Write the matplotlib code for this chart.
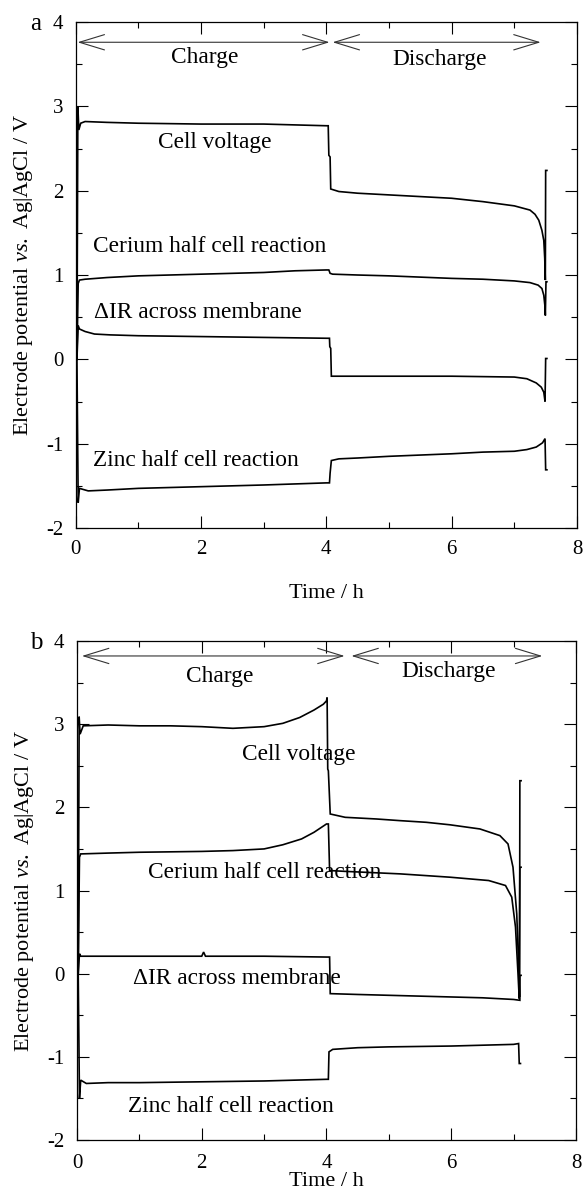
import numpy as np
import matplotlib
matplotlib.use("Agg")
import matplotlib.pyplot as plt

plt.rcParams['font.family'] = ['Liberation Serif', 'DejaVu Serif']
plt.rcParams['mathtext.fontset'] = 'custom'
plt.rcParams['mathtext.rm'] = 'Liberation Serif'
plt.rcParams['mathtext.it'] = 'Liberation Serif:italic'

# ---- panel a: charge/discharge potentials (time in h, potential in V) ----
a_cell_t = [0.02, 0.035, 0.05, 0.08, 0.15, 0.5, 1.0, 2.0, 3.0, 3.5, 4.0, 4.03, 4.04, 4.06, 4.07,
            4.2, 4.5, 5.0, 5.5, 6.0, 6.5, 7.0, 7.25, 7.33, 7.39, 7.44, 7.47, 7.485, 7.495, 7.5, 7.52]
a_cell_v = [0.0, 3.0, 2.72, 2.80, 2.82, 2.81, 2.80, 2.79, 2.79, 2.78, 2.77, 2.77, 2.42, 2.40, 2.02,
            1.99, 1.97, 1.95, 1.93, 1.91, 1.87, 1.82, 1.77, 1.72, 1.65, 1.53, 1.41, 1.20, 0.94, 2.24, 2.24]

a_ce_t = [0.02, 0.04, 0.06, 0.15, 0.5, 1.0, 2.0, 3.0, 3.5, 4.0, 4.04, 4.06, 4.1, 4.5, 5.0, 6.0,
          6.5, 7.0, 7.25, 7.38, 7.44, 7.47, 7.49, 7.495, 7.505, 7.52]
a_ce_v = [0.0, 0.90, 0.94, 0.95, 0.97, 0.99, 1.01, 1.03, 1.05, 1.06, 1.06, 1.02, 1.01, 1.00, 0.99, 0.96,
          0.95, 0.93, 0.91, 0.88, 0.84, 0.76, 0.62, 0.52, 0.92, 0.92]

a_ir_t = [0.02, 0.04, 0.06, 0.15, 0.3, 0.55, 1.0, 2.0, 3.0, 4.0, 4.05, 4.055, 4.07, 4.08, 4.5, 5.0,
          6.0, 7.0, 7.2, 7.35, 7.43, 7.47, 7.49, 7.5, 7.52]
a_ir_v = [0.0, 0.40, 0.36, 0.33, 0.30, 0.29, 0.28, 0.27, 0.26, 0.25, 0.25, 0.15, 0.13, -0.20, -0.20, -0.20,
          -0.20, -0.21, -0.23, -0.28, -0.33, -0.39, -0.50, 0.01, 0.01]

a_zn_t = [0.02, 0.04, 0.06, 0.2, 0.5, 1.0, 2.0, 3.0, 4.0, 4.05, 4.06, 4.08, 4.2, 4.5, 5.0, 6.0,
          6.5, 7.0, 7.2, 7.35, 7.45, 7.49, 7.5, 7.52]
a_zn_v = [0.0, -1.70, -1.53, -1.56, -1.55, -1.53, -1.51, -1.49, -1.465, -1.465, -1.35, -1.20, -1.18, -1.17,
          -1.15, -1.12, -1.10, -1.09, -1.07, -1.04, -0.99, -0.94, -1.31, -1.31]

# ---- panel b ----
b_cell_t = [0.02, 0.035, 0.05, 0.1, 0.5, 1.0, 1.5, 2.0, 2.5, 3.0, 3.3, 3.57, 3.8, 3.95, 4.0, 4.01,
            4.02, 4.03, 4.06, 4.3, 4.8, 5.18, 5.6, 5.98, 6.46, 6.78, 6.91, 6.99, 7.05, 7.08, 7.095,
            7.1, 7.12]
b_cell_v = [0.0, 3.09, 2.88, 2.98, 2.99, 2.98, 2.98, 2.97, 2.95, 2.97, 3.01, 3.08, 3.17, 3.24, 3.28, 3.32,
            2.46, 2.44, 1.92, 1.88, 1.86, 1.84, 1.82, 1.79, 1.74, 1.66, 1.56, 1.28, 0.72, 0.10, -0.28,
            2.32, 2.32]

b_ce_t = [0.02, 0.04, 0.06, 0.5, 1.0, 2.0, 2.5, 3.0, 3.3, 3.6, 3.8, 4.0, 4.03, 4.05, 4.3, 5.18,
          5.98, 6.6, 6.87, 6.97, 7.03, 7.07, 7.09, 7.1, 7.12]
b_ce_v = [0.0, 1.40, 1.44, 1.45, 1.46, 1.47, 1.48, 1.50, 1.55, 1.62, 1.70, 1.80, 1.80, 1.24, 1.23, 1.20,
          1.16, 1.12, 1.06, 0.92, 0.56, 0.0, -0.30, 1.28, 1.28]

b_ir_t = [0.02, 0.04, 0.06, 0.5, 1.0, 2.0, 2.03, 2.06, 3.0, 4.0, 4.05, 4.06, 4.5, 5.5, 6.5, 7.0,
          7.1, 7.1, 7.12]
b_ir_v = [0.0, 0.24, 0.21, 0.21, 0.21, 0.21, 0.26, 0.21, 0.21, 0.20, 0.20, -0.24, -0.25, -0.27, -0.29,
          -0.31, -0.32, -0.02, -0.02]

b_zn_t = [0.02, 0.04, 0.06, 0.15, 0.5, 1.0, 2.0, 3.0, 4.0, 4.03, 4.04, 4.1, 4.5, 5.0, 6.0, 6.5,
          7.0, 7.08, 7.09, 7.11]
b_zn_v = [0.0, -1.50, -1.28, -1.32, -1.31, -1.31, -1.30, -1.29, -1.27, -1.27, -0.94, -0.91, -0.89, -0.88,
          -0.87, -0.86, -0.85, -0.84, -1.08, -1.08]

curve_names = ["Cell voltage", "Cerium half cell reaction", "\u0394IR across membrane",
               "Zinc half cell reaction"]

# label anchors (h, V) for each curve, plus the charge/discharge arrows
a_label_pos = [(2.22, 2.57), (2.14, 1.34), (1.95, 0.55), (1.92, -1.20)]
b_label_pos = [(3.56, 2.64), (3.01, 1.22), (2.56, -0.06), (2.47, -1.60)]
a_arrows = [((0.03, 4.05), 3.76, "Charge", (2.06, 3.58)),
            ((4.10, 7.42), 3.76, "Discharge", (5.81, 3.55))]
b_arrows = [((0.08, 4.29), 3.82, "Charge", (2.29, 3.57)),
            ((4.40, 7.46), 3.82, "Discharge", (5.95, 3.63))]

fig = plt.figure(figsize=(5.84, 11.97), dpi=100)
ax_a = fig.add_axes([0.1296, 0.5589, 0.8584, 0.4227])
ax_b = fig.add_axes([0.1318, 0.0476, 0.8545, 0.4169])


def draw_panel(ax, series, label_pos, arrows, xpad):
    for t, v in series:
        ax.plot(t, v, color='black', lw=1.2, solid_joinstyle='miter')
    for name, (x, y) in zip(curve_names, label_pos):
        ax.text(x, y, name, ha='center', va='center', fontsize=16.8)
    for (x0, x1), y, txt, (tx, ty) in arrows:
        ax.annotate('', xy=(x1, y), xytext=(x0, y),
                    arrowprops=dict(arrowstyle='<->,head_length=1.8,head_width=0.55',
                                    lw=0.8, color='#333333', shrinkA=0, shrinkB=0,
                                    mutation_scale=10))
        ax.text(tx, ty, txt, ha='center', va='center', fontsize=16.8)
    ax.set_xlim(0, 8)
    ax.set_ylim(-2, 4)
    ax.set_xticks([0, 2, 4, 6, 8])
    ax.set_xticks([1, 3, 5, 7], minor=True)
    ax.set_yticks([-2, -1, 0, 1, 2, 3, 4])
    ax.set_yticks(np.arange(-1.5, 4, 1.0), minor=True)
    ax.set_yticklabels(['-2', '-1', '0', '1', '2', '3', '4'])
    ax.tick_params(which='both', direction='in', top=True, right=True, width=0.8, labelsize=15)
    ax.tick_params(which='major', length=8.5)
    ax.tick_params(which='minor', length=4.5)
    ax.tick_params(axis='x', pad=xpad)
    ax.tick_params(axis='y', pad=9)
    for s in ax.spines.values():
        s.set_linewidth(0.9)
    ax.set_ylabel('Electrode potential $\\it{vs.}$ Ag|AgCl / V', fontsize=16, labelpad=8)


draw_panel(ax_a, [(a_cell_t, a_cell_v), (a_ce_t, a_ce_v), (a_ir_t, a_ir_v), (a_zn_t, a_zn_v)],
           a_label_pos, a_arrows, xpad=9)
ax_a.set_xlabel('Time / h', fontsize=16, labelpad=18)

draw_panel(ax_b, [(b_cell_t, b_cell_v), (b_ce_t, b_ce_v), (b_ir_t, b_ir_v), (b_zn_t, b_zn_v)],
           b_label_pos, b_arrows, xpad=10)
ax_b.set_xlabel('Time / h', fontsize=16)
ax_b.xaxis.set_label_coords(0.5, -(1181 - 1140) / 499)
ax_b.xaxis.label.set_va('center')

fig.text(30 / 584, 1 - 24 / 1197, 'a', fontsize=18, ha='left', va='center')
fig.text(30 / 584, 1 - 643 / 1197, 'b', fontsize=18, ha='left', va='center')

fig.savefig('out.png', dpi=100)
